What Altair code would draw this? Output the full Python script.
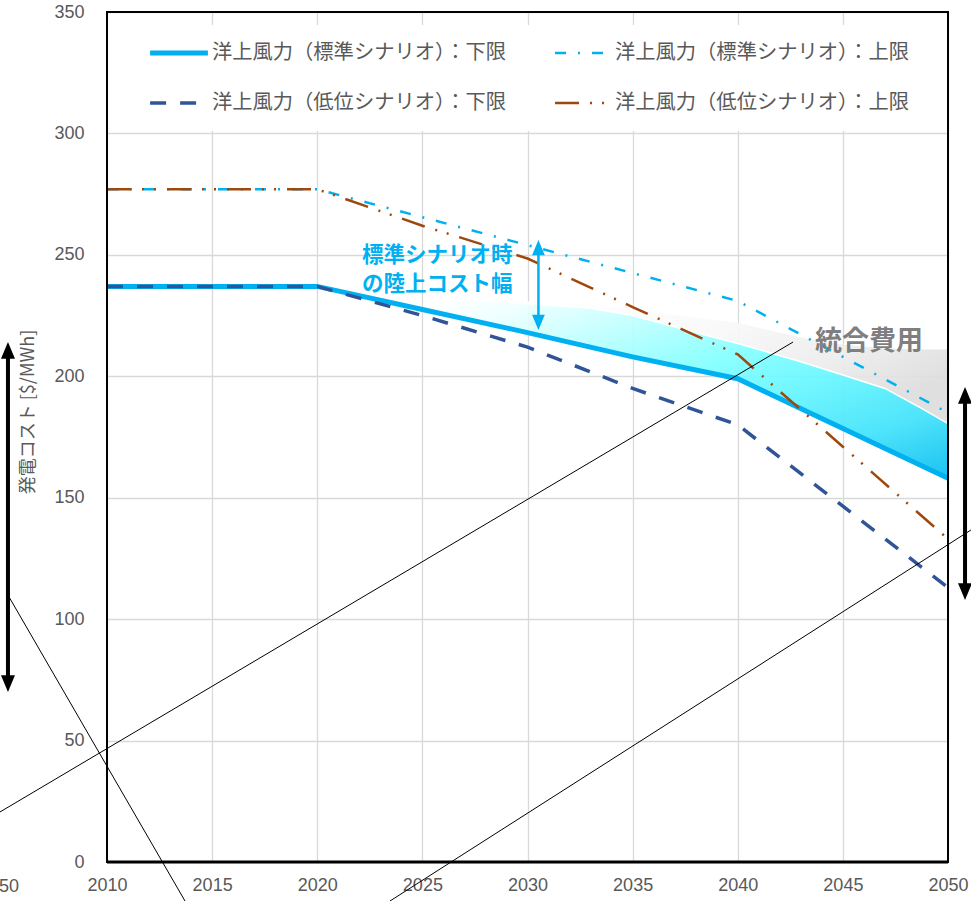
import altair as alt
import pandas as pd

# ---- cost pathways ($/MWh) ----
years = [2010, 2015, 2020, 2025, 2030, 2035, 2040, 2045, 2050]
std_low = [237, 237, 237, 227.5, 218, 208, 199, 178.5, 158]
std_high = [277, 277, 277, 265.5, 254, 242.5, 231, 208, 185]
low_low = [237, 237, 237, 225, 212, 195, 180, 146.5, 113]
low_high = [277, 277, 277, 262, 248.5, 228.5, 209, 171, 133]

series_names = [
    "洋上風力（標準シナリオ）：下限",
    "洋上風力（標準シナリオ）：上限",
    "洋上風力（低位シナリオ）：下限",
    "洋上風力（低位シナリオ）：上限",
]
series_values = [std_low, std_high, low_low, low_high]

# onshore cost range under the standard scenario
band_years = [2026, 2030, 2033, 2035, 2038, 2040, 2043, 2045, 2047, 2048.7, 2050]
band_low = [225.6, 218, 212, 208, 202.6, 199, 186.7, 178.5, 170.3, 163.3, 158]
band_high = [232, 230, 228, 225, 218, 213.5, 206, 200.5, 195, 187, 180.5]

# integration cost on top of the onshore range
integ_years = [2030, 2033, 2035, 2038, 2040, 2043, 2045, 2047, 2048.7, 2050]
integ_low = [230, 228, 225, 218, 213.5, 206, 200.5, 195, 187, 180.5]
integ_high = [231, 229.5, 227.5, 224, 222, 216, 213, 211.5, 211, 211]

x_ticks = [2010, 2015, 2020, 2025, 2030, 2035, 2040, 2045, 2050]
y_ticks = [0, 50, 100, 150, 200, 250, 300, 350]

# ---- styles ----
series_colors = ["#00B0F0", "#00B0F0", "#2F5597", "#9E480E"]
series_widths = [5, 2.5, 3.5, 2.5]
series_dashes = [None, [11, 12, 2, 12], [16, 14], [24, 11, 2, 10, 2, 11]]
draw_order = [0, 2, 1, 3]

GRAY_TXT = "#595959"
JP = "Noto Sans CJK JP"
LAT = "Liberation Sans"

# ---- layout helpers (data units) ----
legend_x0 = [2012.05, 2031.31, 2012.05, 2031.31]
legend_x1 = [2014.8, 2033.69, 2014.8, 2033.69]
legend_tx = [2014.99, 2034.16, 2014.99, 2034.16]
legend_y = [333.1, 333.1, 312.5, 312.5]

xs = alt.Scale(domain=[2010, 2050], nice=False, zero=False)
ys = alt.Scale(domain=[0, 350], nice=False, zero=False)
x_axis = alt.Axis(values=x_ticks, format="d", title=None, grid=True, gridColor="#d9d9d9",
                  gridWidth=1.3, domain=False, ticks=False, labelFont=LAT, labelFontSize=18,
                  labelColor=GRAY_TXT, labelPadding=14, labelFlush=False, labelOverlap=False)
y_axis = alt.Axis(values=y_ticks, title=None, grid=True, gridColor="#d9d9d9", gridWidth=1.3,
                  domain=False, ticks=False, labelFont=LAT, labelFontSize=18,
                  labelColor=GRAY_TXT, labelPadding=23, labelFlush=False, labelOverlap=False)


def X(f):
    return alt.X(f, type="quantitative", scale=xs, axis=x_axis)


def Y(f):
    return alt.Y(f, type="quantitative", scale=ys, axis=y_axis)


layers = []

# white panel behind the legend
legend_box = pd.DataFrame({"x0": [2010.1], "x1": [2049.9], "y0": [301], "y1": [344.6]})
layers.append(alt.Chart(legend_box).mark_rect(color="white").encode(
    x=X("x0"), x2="x1", y=Y("y0"), y2="y1"))

# integration cost band
integ_df = pd.DataFrame({"year": integ_years, "lo": integ_low, "hi": integ_high})
gray_grad = alt.Gradient(gradient="linear", x1=0, y1=0, x2=1, y2=0.6, stops=[
    alt.GradientStop(color="#ffffff", offset=0),
    alt.GradientStop(color="#f8f8f8", offset=0.45),
    alt.GradientStop(color="#ececec", offset=0.75),
    alt.GradientStop(color="#dddddd", offset=1)])
layers.append(alt.Chart(integ_df).mark_area(color=gray_grad, opacity=0.92).encode(
    x=X("year"), y=Y("hi"), y2="lo"))

# onshore cost band
band_df = pd.DataFrame({"year": band_years, "lo": band_low, "hi": band_high})
cyan_grad = alt.Gradient(gradient="linear", x1=0, y1=0, x2=1, y2=1, stops=[
    alt.GradientStop(color="#ffffff", offset=0),
    alt.GradientStop(color="#eeffff", offset=0.1),
    alt.GradientStop(color="#c0ffff", offset=0.25),
    alt.GradientStop(color="#80ffff", offset=0.45),
    alt.GradientStop(color="#66f6ff", offset=0.6),
    alt.GradientStop(color="#40e2fa", offset=0.8),
    alt.GradientStop(color="#08bcf0", offset=1)])
layers.append(alt.Chart(band_df).mark_area(color=cyan_grad, opacity=0.92).encode(
    x=X("year"), y=Y("hi"), y2="lo"))
layers.append(alt.Chart(band_df).mark_line(color="white", strokeWidth=1.5).encode(
    x=X("year"), y=Y("hi")))

# cost pathways
for i in draw_order:
    df = pd.DataFrame({"year": years, "value": series_values[i]})
    kw = dict(color=series_colors[i], strokeWidth=series_widths[i])
    if series_dashes[i]:
        kw["strokeDash"] = series_dashes[i]
    layers.append(alt.Chart(df).mark_line(**kw).encode(x=X("year"), y=Y("value")))

# onshore range annotation
ann_df = pd.DataFrame({"x": [2022.13, 2022.13], "y": [249.6, 237.4],
                       "t": ["標準シナリオ時", "の陸上コスト幅"]})
layers.append(alt.Chart(ann_df).mark_text(font=JP, fontSize=21.5, fontWeight="bold",
                                          color="#00B0F0", align="left", baseline="middle").encode(
    x=X("x"), y=Y("y"), text="t:N"))

integ_lbl = pd.DataFrame({"x": [2046.24], "y": [214.1], "t": ["統合費用"]})
layers.append(alt.Chart(integ_lbl).mark_text(font=JP, fontSize=27, fontWeight="bold",
                                             color="#7f7f7f", align="center", baseline="middle").encode(
    x=X("x"), y=Y("y"), text="t:N"))

# double-headed arrows: (x, top, bottom, colour, shaft width, head half-width, head depth)
arrows = [
    (2030.52, 256.1, 219.1, "#00B0F0", 2.5, 0.8, 1.9),
    (2005.29, 214.1, 70.0, "black", 4, 0.875, 2.1),
    (2050.81, 195.6, 107.9, "black", 4, 0.875, 2.1),
]
for ax, top, bot, col, w, hw, hh in arrows:
    adf = pd.DataFrame({"x": [ax], "top": [top], "bot": [bot]})
    layers.append(alt.Chart(adf).mark_rule(color=col, strokeWidth=w, yOffset=6, y2Offset=-6).encode(
        x=X("x"), y=Y("top"), y2="bot"))
    up = f"M0,0L{hw},{hh}L-{hw},{hh}Z"
    down = f"M0,0L{hw},-{hh}L-{hw},-{hh}Z"
    layers.append(alt.Chart(adf).mark_point(shape=up, size=256, filled=True, color=col,
                                            opacity=1, strokeWidth=0).encode(x=X("x"), y=Y("top")))
    layers.append(alt.Chart(adf).mark_point(shape=down, size=256, filled=True, color=col,
                                            opacity=1, strokeWidth=0).encode(x=X("x"), y=Y("bot")))

# legend
for i in range(4):
    ldf = pd.DataFrame({"x": [legend_x0[i], legend_x1[i]], "y": [legend_y[i]] * 2})
    kw = dict(color=series_colors[i], strokeWidth=series_widths[i])
    if series_dashes[i]:
        kw["strokeDash"] = series_dashes[i]
    layers.append(alt.Chart(ldf).mark_line(**kw).encode(x=X("x"), y=Y("y")))
leg_txt = pd.DataFrame({"x": legend_tx, "y": legend_y, "t": series_names})
layers.append(alt.Chart(leg_txt).mark_text(font=JP, fontSize=20.3, color=GRAY_TXT,
                                           align="left", baseline="middle").encode(
    x=X("x"), y=Y("y"), text="t:N"))

# thin connector lines
seg_df = pd.DataFrame({
    "seg": ["a", "a", "b", "b", "c", "c"],
    "x": [2004.91, 2042.63, 2005.29, 2013.71, 2023.46, 2051.09],
    "y": [20.6, 214.1, 109.9, -16.06, -16.06, 136.7],
})
layers.append(alt.Chart(seg_df).mark_line(color="black", strokeWidth=1).encode(
    x=X("x"), y=Y("y"), detail="seg:N"))

# y-axis title and neighbouring tick label
side_txt = pd.DataFrame({"x": [2006.29], "y": [185.3], "t": ["発電コスト [$/MWh]"]})
layers.append(alt.Chart(side_txt).mark_text(font=JP, fontSize=18, color=GRAY_TXT, angle=270,
                                            align="center", baseline="middle").encode(
    x=X("x"), y=Y("y"), text="t:N"))
edge_lbl = pd.DataFrame({"x": [2005.82], "y": [-10.3], "t": ["2050"]})
layers.append(alt.Chart(edge_lbl).mark_text(font=LAT, fontSize=18, color=GRAY_TXT,
                                            align="right", baseline="middle").encode(
    x=X("x"), y=Y("y"), text="t:N"))

# plot frame
frame = pd.DataFrame({"x0": [2010], "x1": [2050], "y0": [0], "y1": [350]})
layers.append(alt.Chart(frame).mark_rect(fillOpacity=0, stroke="black", strokeWidth=2).encode(
    x=X("x0"), x2="x1", y=Y("y0"), y2="y1"))
layers.append(alt.Chart(frame).mark_rule(color="black", strokeWidth=3).encode(
    x=X("x0"), x2="x1", y=Y("y0")))

chart = alt.layer(*layers).properties(
    width=841, height=850,
    autosize=alt.AutoSizeParams(type="none"),
    padding={"left": 107, "top": 12, "right": 23, "bottom": 39},
).configure_view(stroke=None).configure(background="white")

chart.save("out.html", embed_options={"renderer": "svg", "actions": False})
